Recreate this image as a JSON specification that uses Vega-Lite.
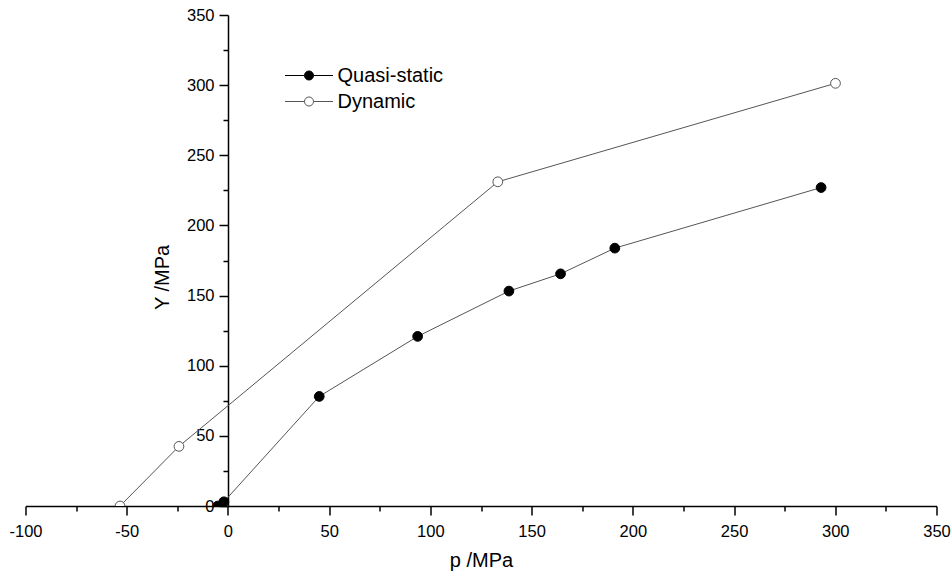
{
  "$schema": "https://vega.github.io/schema/vega-lite/v6.json",
  "width": 911,
  "height": 491,
  "autosize": "none",
  "padding": {"left": 25.5, "top": 15, "right": 14.5, "bottom": 69},
  "background": "white",
  "config": {
    "font": "Liberation Sans",
    "view": {"stroke": null},
    "axis": {"grid": false}
  },
  "data": {
    "values": [
      {"series": "Quasi-static", "p": -5, "Y": 0},
      {"series": "Quasi-static", "p": -2, "Y": 3},
      {"series": "Quasi-static", "p": 45.1, "Y": 78.1},
      {"series": "Quasi-static", "p": 93.7, "Y": 120.9},
      {"series": "Quasi-static", "p": 138.8, "Y": 153.2},
      {"series": "Quasi-static", "p": 164.3, "Y": 165.5},
      {"series": "Quasi-static", "p": 191.1, "Y": 183.8},
      {"series": "Quasi-static", "p": 293, "Y": 227},
      {"series": "Dynamic", "p": -53.3, "Y": 0},
      {"series": "Dynamic", "p": -24.2, "Y": 42.5},
      {"series": "Dynamic", "p": 133.3, "Y": 231.1},
      {"series": "Dynamic", "p": 300.1, "Y": 301.3}
    ]
  },
  "encoding": {
    "x": {
      "field": "p",
      "type": "quantitative",
      "scale": {"domain": [-100, 350], "nice": false, "zero": false},
      "axis": {
        "title": "p /MPa",
        "values": [-100, -75, -50, -25, 0, 25, 50, 75, 100, 125, 150, 175, 200, 225, 250, 275, 300, 325, 350],
        "labelExpr": "datum.value % 50 === 0 ? (datum.value + '') : ''",
        "tickSize": {"condition": {"test": "datum.value % 50 === 0", "value": 9}, "value": 5},
        "domainColor": "black",
        "tickColor": "black",
        "domainWidth": 1.5,
        "tickWidth": 1.5,
        "labelFontSize": 16.5,
        "labelColor": "black",
        "labelPadding": 8,
        "labelFlush": false,
        "labelOverlap": false,
        "labelBound": false,
        "titleFontSize": 20,
        "titleFontWeight": "normal",
        "titleColor": "black",
        "titlePadding": 11
      }
    },
    "y": {
      "field": "Y",
      "type": "quantitative",
      "scale": {"domain": [0, 350], "nice": false},
      "axis": {
        "title": "Y /MPa",
        "offset": -202.5,
        "values": [0, 25, 50, 75, 100, 125, 150, 175, 200, 225, 250, 275, 300, 325, 350],
        "labelExpr": "datum.value % 50 === 0 ? (datum.value + '') : ''",
        "tickSize": {"condition": {"test": "datum.value % 50 === 0", "value": 9}, "value": 5},
        "domainColor": "black",
        "tickColor": "black",
        "domainWidth": 1.5,
        "tickWidth": 1.5,
        "labelFontSize": 16.5,
        "labelColor": "black",
        "labelPadding": 5,
        "labelFlush": false,
        "labelOverlap": false,
        "labelBound": false,
        "titleFontSize": 20,
        "titleFontWeight": "normal",
        "titleColor": "black",
        "titleX": -56,
        "titleY": 262
      }
    }
  },
  "layer": [
    {
      "mark": {"type": "line", "color": "#555555", "strokeWidth": 1, "clip": true},
      "encoding": {
        "detail": {"field": "series"}
      }
    },
    {
      "mark": {"type": "point", "size": 95, "strokeWidth": 1, "opacity": 1, "fillOpacity": 1, "clip": true},
      "encoding": {
        "fill": {
          "field": "series",
          "type": "nominal",
          "scale": {"domain": ["Quasi-static", "Dynamic"], "range": ["black", "white"]},
          "legend": {
            "title": null,
            "orient": "none",
            "legendX": 273,
            "legendY": 50,
            "symbolType": "M-2.5,0H-0.47M0.47,0H2.5M0.47,0A0.47,0.47,0,1,1,-0.47,0A0.47,0.47,0,1,1,0.47,0Z",
            "symbolSize": 369,
            "symbolStrokeWidth": 1,
            "labelFontSize": 20,
            "labelColor": "black",
            "labelOffset": 18,
            "rowPadding": 5
          }
        },
        "stroke": {
          "field": "series",
          "type": "nominal",
          "scale": {"domain": ["Quasi-static", "Dynamic"], "range": ["black", "#555555"]},
          "legend": {
            "title": null,
            "orient": "none",
            "legendX": 273,
            "legendY": 50,
            "symbolType": "M-2.5,0H-0.47M0.47,0H2.5M0.47,0A0.47,0.47,0,1,1,-0.47,0A0.47,0.47,0,1,1,0.47,0Z",
            "symbolSize": 369,
            "symbolStrokeWidth": 1,
            "labelFontSize": 20,
            "labelColor": "black",
            "labelOffset": 18,
            "rowPadding": 5
          }
        }
      }
    }
  ]
}
